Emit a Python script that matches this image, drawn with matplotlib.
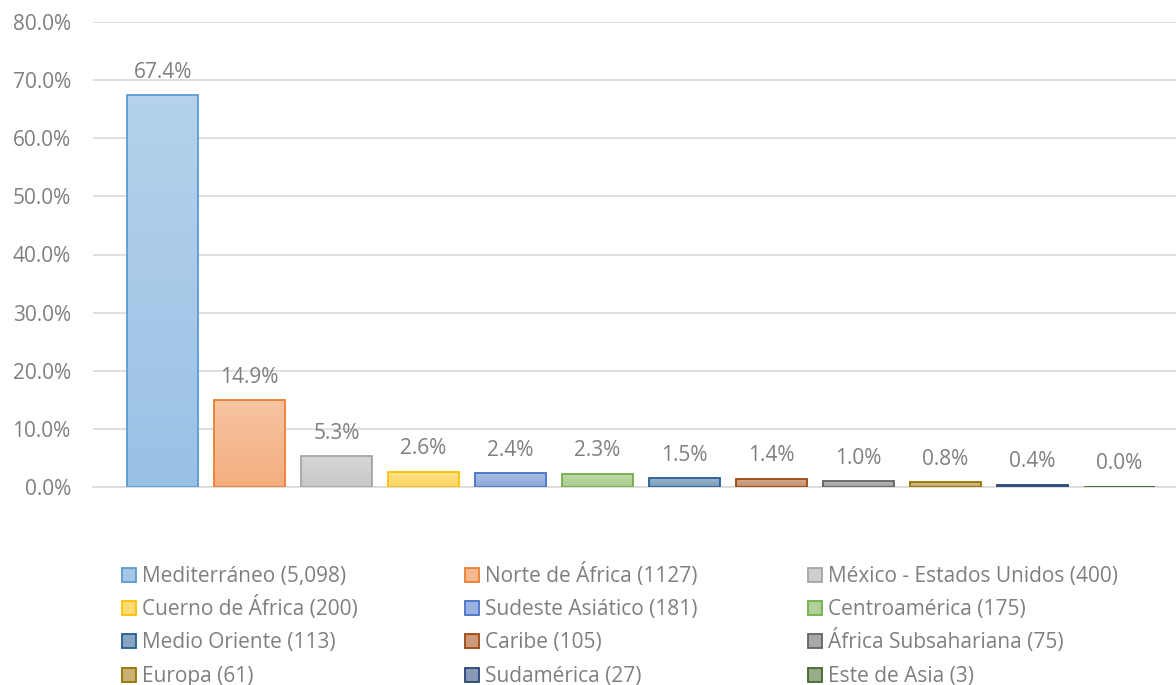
import numpy as np
import matplotlib.pyplot as plt
from matplotlib.patches import Rectangle
from matplotlib.colors import to_rgb

# Datos
regiones = ['Mediterráneo', 'Norte de África', 'México - Estados Unidos',
            'Cuerno de África', 'Sudeste Asiático', 'Centroamérica',
            'Medio Oriente', 'Caribe', 'África Subsahariana',
            'Europa', 'Sudamérica', 'Este de Asia']
conteos = ['5,098', '1127', '400', '200', '181', '175',
           '113', '105', '75', '61', '27', '3']
porcentajes = [67.4, 14.9, 5.3, 2.6, 2.4, 2.3, 1.5, 1.4, 1.0, 0.8, 0.4, 0.04]

bordes = ['#5B9BD5', '#ED7D31', '#A5A5A5', '#FFC000', '#4472C4', '#70AD47',
          '#255E91', '#9E480E', '#636363', '#997300', '#264478', '#43682B']

plt.rcParams['font.family'] = ['Open Sans', 'DejaVu Sans']
gris = '#7F7F7F'
W, H = 1176, 685


def mezclar(color, f):
    c = np.array(to_rgb(color))
    return tuple(c + (1 - c) * f)


fig = plt.figure(figsize=(W / 100, H / 100), dpi=100)
ax = fig.add_axes([93 / W, 1 - 487 / H, 1 - 93 / W, (487 - 22) / H])

x = np.arange(len(regiones))
ancho = 0.816
barras = ax.bar(x, porcentajes, width=ancho, color='none',
                edgecolor=bordes, linewidth=1.3, zorder=3)

# relleno en degradado dentro de cada barra
for b, c in zip(barras, bordes):
    arriba = np.array(mezclar(c, 0.55))
    abajo = np.array(mezclar(c, 0.38))
    t = np.linspace(0, 1, 64)[:, None]
    grad = (abajo * (1 - t) + arriba * t)[:, None, :]
    x0, h = b.get_x(), b.get_height()
    img = ax.imshow(grad, extent=[x0, x0 + ancho, 0, h], origin='lower',
                    aspect='auto', zorder=2, interpolation='bilinear')
    img.set_clip_path(b)

for xi, p in zip(x, porcentajes):
    ax.annotate(f'{p:.1f}%', (xi, p), xytext=(0, 9), textcoords='offset points',
                ha='center', va='bottom', fontsize=15, color=gris)

ax.set_xlim(-0.80, 11.65)
ax.set_ylim(0, 80)
ax.set_yticks(np.arange(0, 81, 10))
ax.set_yticklabels([f'{v:.1f}%' for v in np.arange(0, 81, 10)])
ax.set_xticks([])
ax.tick_params(axis='y', length=0, labelsize=15, labelcolor=gris, pad=16)
ax.grid(axis='y', color='#D9D9D9', linewidth=1.2, zorder=0)
ax.set_axisbelow(True)
for s in ['top', 'right', 'left']:
    ax.spines[s].set_visible(False)
ax.spines['bottom'].set_color('#D9D9D9')
ax.spines['bottom'].set_linewidth(1.2)

# leyenda manual: 3 columnas, orden por filas
col_x = [122, 465, 808]
fila_y = [575, 608, 641, 675]
lado = 14
for i, (r, n, c) in enumerate(zip(regiones, conteos, bordes)):
    px, py = col_x[i % 3], fila_y[i // 3]
    fig.patches.append(Rectangle((px / W, 1 - (py + lado / 2) / H), lado / W, lado / H,
                                 transform=fig.transFigure, facecolor=mezclar(c, 0.45),
                                 edgecolor=c, linewidth=1.3))
    fig.text((px + lado + 6) / W, 1 - (py + 7) / H, f'{r} ({n})', fontsize=15,
             color=gris, ha='left', va='baseline')

fig.savefig('out.png', dpi=100)
